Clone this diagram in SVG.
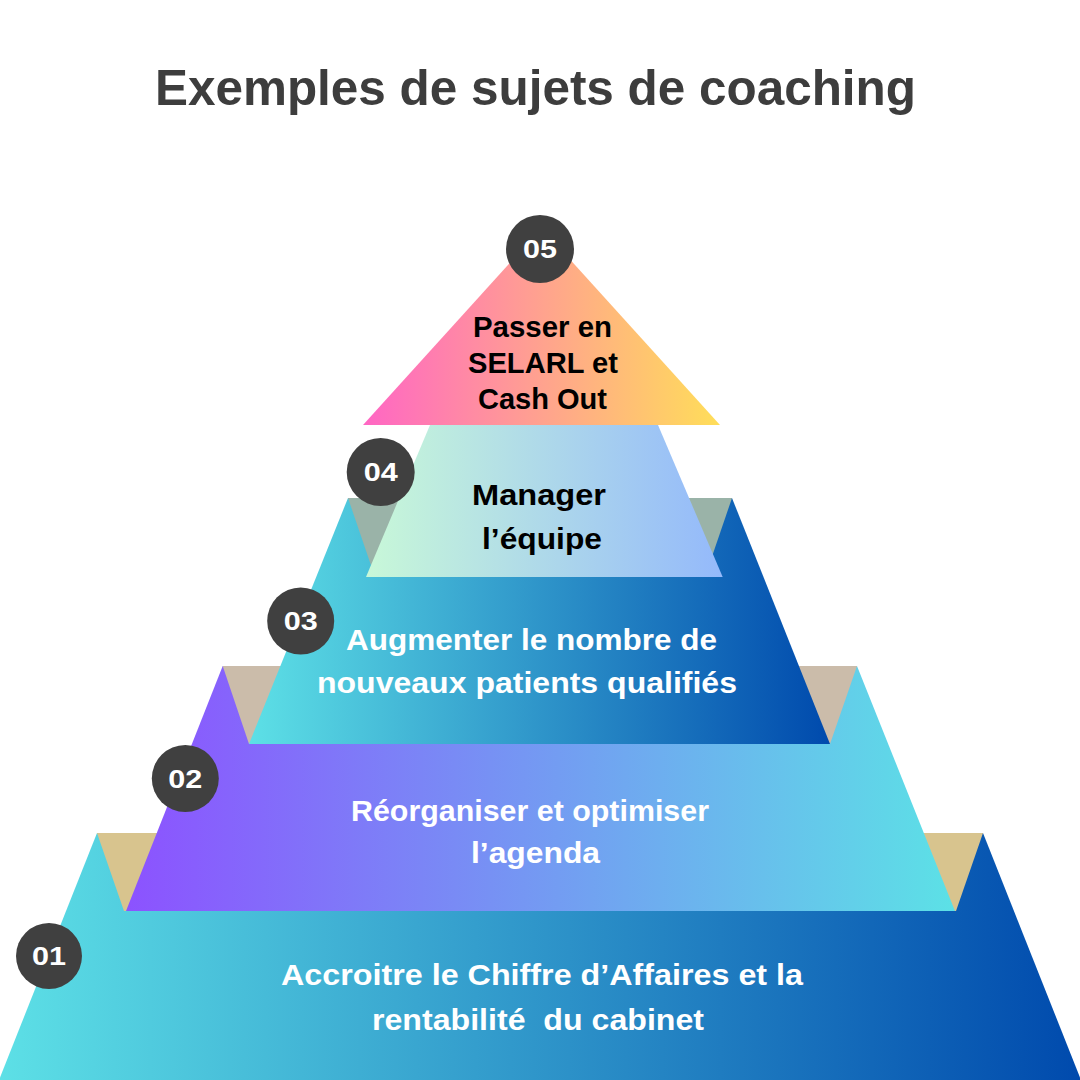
<svg xmlns="http://www.w3.org/2000/svg" width="1080" height="1080" viewBox="0 0 1080 1080">
<defs>
<linearGradient id="gBlue" x1="0" y1="0" x2="1" y2="0"><stop offset="0" stop-color="#5de0e6"/><stop offset="1" stop-color="#004aad"/></linearGradient>
<linearGradient id="gPurple" x1="0" y1="0" x2="1" y2="0"><stop offset="0" stop-color="#8c52ff"/><stop offset="1" stop-color="#5ce1e6"/></linearGradient>
<linearGradient id="gMint" x1="0" y1="0" x2="1" y2="0"><stop offset="0" stop-color="#c8f8d8"/><stop offset="1" stop-color="#94b9fb"/></linearGradient>
<linearGradient id="gPink" x1="0" y1="0" x2="1" y2="0"><stop offset="0" stop-color="#ff66c4"/><stop offset="1" stop-color="#ffde59"/></linearGradient>
<style>
.t{font-family:"Liberation Sans",Arial,sans-serif;font-weight:bold;font-size:30px}
.w{fill:#ffffff}
.k{fill:#000000}
.num{font-family:"Liberation Sans",Arial,sans-serif;font-weight:bold;font-size:26px;fill:#ffffff}
.badge{fill:#404040}
</style>
</defs>
<rect width="1080" height="1080" fill="#ffffff"/>
<text x="155" y="104.5" font-family="Liberation Sans, Arial, sans-serif" font-weight="bold" font-size="49.5" fill="#3d3d3d" textLength="761" lengthAdjust="spacingAndGlyphs">Exemples de sujets de coaching</text>

<g id="level1">
<polygon points="97,833 983,833 1081,1080 -1,1080" fill="url(#gBlue)"/>
</g>
<polygon id="shade12" points="97,833 983,833 956,911 124,911" fill="#d8c48e"/>
<g id="level2">
<polygon points="222.7,666 857,666 955,911 126,911" fill="url(#gPurple)"/>
</g>
<polygon id="shade23" points="222.7,666 857,666 830,744 249,744" fill="#cbbcaa"/>
<g id="level3">
<polygon points="348,498 732,498 830,744 249,744" fill="url(#gBlue)"/>
</g>
<polygon id="shade34" points="348,498 732,498 705,577 375,577" fill="#9ab3a8"/>
<g id="level4">
<polygon points="430,425 658,425 722.7,577 366,577" fill="url(#gMint)"/>
</g>
<g id="level5">
<polygon points="541.5,228 720,425 363,425" fill="url(#gPink)"/>
</g>

<g id="node5">
<circle class="badge" cx="540" cy="249" r="34"/>
<text class="num" x="523" y="258" textLength="34" lengthAdjust="spacingAndGlyphs">05</text>
<text class="t k" x="473" y="337" textLength="139" lengthAdjust="spacingAndGlyphs">Passer en</text>
<text class="t k" x="468" y="373" textLength="150" lengthAdjust="spacingAndGlyphs">SELARL et</text>
<text class="t k" x="478" y="408.5" textLength="129" lengthAdjust="spacingAndGlyphs">Cash Out</text>
</g>
<g id="node4">
<circle class="badge" cx="380.7" cy="472" r="34"/>
<text class="num" x="363.7" y="481" textLength="34" lengthAdjust="spacingAndGlyphs">04</text>
<text class="t k" x="472" y="505" textLength="134" lengthAdjust="spacingAndGlyphs">Manager</text>
<text class="t k" x="482" y="548.5" textLength="120" lengthAdjust="spacingAndGlyphs">l’équipe</text>
</g>
<g id="node3">
<circle class="badge" cx="300.7" cy="621" r="33.5"/>
<text class="num" x="283.7" y="630" textLength="34" lengthAdjust="spacingAndGlyphs">03</text>
<text class="t w" x="346" y="649.5" textLength="371" lengthAdjust="spacingAndGlyphs">Augmenter le nombre de</text>
<text class="t w" x="317" y="693" textLength="420" lengthAdjust="spacingAndGlyphs">nouveaux patients qualifiés</text>
</g>
<g id="node2">
<circle class="badge" cx="185.3" cy="778.5" r="33.5"/>
<text class="num" x="168.3" y="787.5" textLength="34" lengthAdjust="spacingAndGlyphs">02</text>
<text class="t w" x="351" y="821" textLength="358" lengthAdjust="spacingAndGlyphs">Réorganiser et optimiser</text>
<text class="t w" x="471" y="863" textLength="129" lengthAdjust="spacingAndGlyphs">l’agenda</text>
</g>
<g id="node1">
<circle class="badge" cx="49" cy="956" r="33"/>
<text class="num" x="32" y="965" textLength="34" lengthAdjust="spacingAndGlyphs">01</text>
<text class="t w" x="281" y="985" textLength="522" lengthAdjust="spacingAndGlyphs">Accroitre le Chiffre d’Affaires et la</text>
<text class="t w" x="372" y="1030" textLength="332" lengthAdjust="spacingAndGlyphs" xml:space="preserve">rentabilité  du cabinet</text>
</g>
<g id="connectors"></g>
</svg>
